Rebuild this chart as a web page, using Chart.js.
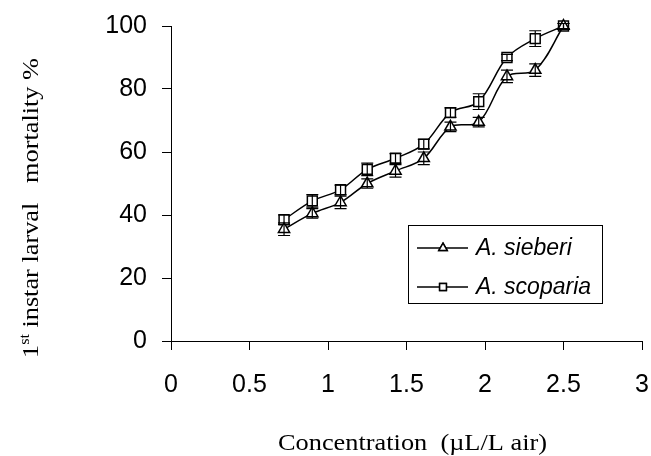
<!DOCTYPE html>
<html>
<head>
<meta charset="utf-8">
<script src="https://cdn.jsdelivr.net/npm/chart.js@4.4.1/dist/chart.umd.min.js"></script>
<style>
    html, body { margin: 0; padding: 0; background: #ffffff; }
    canvas { display: block; }
</style>
</head>
<body>
<canvas id="mortalityChart" width="651" height="456"></canvas>
<script>
// Data
const concentrations = [0.72, 0.9, 1.08, 1.25, 1.43, 1.61, 1.78, 1.96, 2.14, 2.32, 2.5];
const sieberiMortality = [35.5, 40.5, 44, 50, 54, 58, 68, 69.5, 84, 86, 100];
const sieberiError = [2, 1.5, 2, 1.5, 2, 2, 1.5, 1.5, 2, 2, 0.8];
const scopariaMortality = [38.5, 44.5, 48, 54.5, 58, 62.5, 72.5, 76, 90, 96, 100];
const scopariaError = [1.5, 2, 1.5, 2, 1.5, 1.5, 1.5, 2.5, 1, 2.5, 0.8];
const seriesLabels = ['A. sieberi', 'A. scoparia'];
const seriesMarkers = ['triangle', 'rect'];
const xTitle = 'Concentration  (\u00b5L/L air)';
const yTitleParts = ['1', 'st', ' instar larval   mortality %'];

const toPoints = (xs, ys) => xs.map((x, i) => ({ x: x, y: ys[i] }));

// Error bars, axis titles and the boxed legend
const extrasPlugin = {
    id: 'extras',
    afterDatasetsDraw(chart) {
        const ctx = chart.ctx;
        const xs = chart.scales.x;
        const ys = chart.scales.y;
        ctx.save();
        ctx.strokeStyle = '#000';
        ctx.lineWidth = 1.2;
        chart.data.datasets.forEach(ds => {
            ds.data.forEach((p, i) => {
                const e = ds.errors[i];
                const px = xs.getPixelForValue(p.x);
                const top = ys.getPixelForValue(p.y + e);
                const bot = ys.getPixelForValue(p.y - e);
                ctx.beginPath();
                ctx.moveTo(px, top);
                ctx.lineTo(px, bot);
                ctx.moveTo(px - 6, top);
                ctx.lineTo(px + 6, top);
                ctx.moveTo(px - 6, bot);
                ctx.lineTo(px + 6, bot);
                ctx.stroke();
            });
        });
        ctx.restore();
    },
    afterDraw(chart) {
        const ctx = chart.ctx;
        ctx.save();
        ctx.fillStyle = '#000';

        // x title
        ctx.font = '23px "Liberation Serif", "Times New Roman", serif';
        ctx.textBaseline = 'alphabetic';
        const xw = ctx.measureText(xTitle).width;
        const xs = 269 / xw;
        ctx.save();
        ctx.translate(412.5, 450);
        ctx.scale(xs, 1);
        ctx.textAlign = 'center';
        ctx.fillText(xTitle, 0, 0);
        ctx.restore();

        // y title with superscript
        ctx.save();
        ctx.translate(38, 208);
        ctx.rotate(-Math.PI / 2);
        const bigFont = '23px "Liberation Serif", "Times New Roman", serif';
        const supFont = '14px "Liberation Serif", "Times New Roman", serif';
        ctx.font = bigFont;
        const w1 = ctx.measureText(yTitleParts[0]).width;
        const w3 = ctx.measureText(yTitleParts[2]).width;
        ctx.font = supFont;
        const w2 = ctx.measureText(yTitleParts[1]).width;
        const total = w1 + w2 + w3;
        const ys = 300 / total;
        ctx.scale(ys, 1);
        let pos = -total / 2;
        ctx.textAlign = 'left';
        ctx.font = bigFont;
        ctx.fillText(yTitleParts[0], pos, 0);
        pos += w1;
        ctx.font = supFont;
        ctx.fillText(yTitleParts[1], pos, -9);
        pos += w2;
        ctx.font = bigFont;
        ctx.fillText(yTitleParts[2], pos, 0);
        ctx.restore();

        // legend
        ctx.strokeStyle = '#000';
        ctx.lineWidth = 1;
        ctx.strokeRect(408.5, 225.5, 194, 78);
        const rowY = [248, 287];
        chart.data.datasets.forEach((ds, i) => {
            const y = rowY[i];
            ctx.lineWidth = 1.5;
            ctx.beginPath();
            ctx.moveTo(417, y);
            ctx.lineTo(468, y);
            ctx.stroke();
            ctx.fillStyle = '#fff';
            Chart.helpers.drawPoint(ctx, {
                pointStyle: ds.pointStyle,
                radius: 4.8,
                rotation: 0,
                borderWidth: 1.2
            }, 443, y);
            ctx.fill();
            ctx.stroke();
            ctx.fillStyle = '#000';
            ctx.font = 'italic 23px "Liberation Sans", Arial, sans-serif';
            ctx.textAlign = 'left';
            ctx.textBaseline = 'middle';
            ctx.fillText(ds.label, 476, y + 1);
        });
        ctx.restore();
    }
};

const tickFont = { family: '"Liberation Sans", Arial, sans-serif', size: 25 };

new Chart(document.getElementById('mortalityChart'), {
    type: 'line',
    data: {
        datasets: [
            {
                label: seriesLabels[0],
                data: toPoints(concentrations, sieberiMortality),
                errors: sieberiError,
                pointStyle: seriesMarkers[0],
                borderColor: '#000',
                borderWidth: 1.5,
                pointRadius: 6.5,
                pointBorderWidth: 1.5,
                pointBackgroundColor: '#fff',
                pointBorderColor: '#000',
                tension: 0.35,
                fill: false,
                clip: false
            },
            {
                label: seriesLabels[1],
                data: toPoints(concentrations, scopariaMortality),
                errors: scopariaError,
                pointStyle: seriesMarkers[1],
                borderColor: '#000',
                borderWidth: 1.5,
                pointRadius: 7,
                pointBorderWidth: 1.5,
                pointBackgroundColor: '#fff',
                pointBorderColor: '#000',
                tension: 0.35,
                fill: false,
                clip: false
            }
        ]
    },
    options: {
        responsive: false,
        animation: false,
        devicePixelRatio: 1,
        layout: { padding: { top: 26, right: 9, left: 0, bottom: 0 } },
        plugins: {
            legend: { display: false },
            tooltip: { enabled: false }
        },
        scales: {
            x: {
                type: 'linear',
                min: 0,
                max: 3,
                afterFit: scale => {
                    scale.height = 115;
                    scale.paddingLeft = 0;
                    scale.paddingRight = 0;
                },
                ticks: {
                    stepSize: 0.5,
                    color: '#000',
                    font: tickFont,
                    padding: 20,
                    maxRotation: 0,
                    callback: v => String(Number(v.toFixed(1)))
                },
                grid: { drawOnChartArea: false, tickLength: 9, color: '#000' },
                border: { color: '#000', width: 1 }
            },
            y: {
                min: 0,
                max: 100,
                afterFit: scale => {
                    scale.width = 171;
                    scale.paddingTop = 0;
                    scale.paddingBottom = 0;
                },
                ticks: { stepSize: 20, color: '#000', font: tickFont, padding: 15 },
                grid: { drawOnChartArea: false, tickLength: 9, color: '#000' },
                border: { color: '#000', width: 1 }
            }
        }
    },
    plugins: [extrasPlugin]
});
</script>
</body>
</html>
